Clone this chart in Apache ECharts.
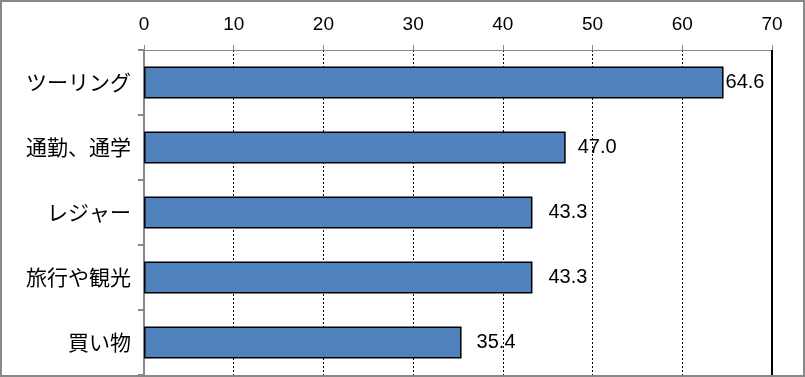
<!DOCTYPE html>
<html>
<head>
<meta charset="utf-8">
<script src="https://cdn.jsdelivr.net/npm/echarts@6/dist/echarts.min.js"></script>
<style>
  html, body { margin: 0; padding: 0; background: #fff; }
  #chart { width: 805px; height: 377px; box-sizing: border-box; border: 2px solid #888; }
</style>
</head>
<body>
<div id="chart"></div>
<script>
const categories = ['ツーリング', '通勤、通学', 'レジャー', '旅行や観光', '買い物'];
const values = [64.6, 47.0, 43.3, 43.3, 35.4];
const labelGaps = [2, 12, 16, 16, 15];

const chart = echarts.init(document.getElementById('chart'));

chart.setOption({
  animation: false,
  grid: { left: 142, right: 31, top: 48, bottom: 0 },
  xAxis: {
    type: 'value',
    position: 'top',
    min: 0,
    max: 70,
    interval: 10,
    axisLine: { show: true, lineStyle: { color: '#888', width: 1 } },
    axisTick: { show: true, inside: false, length: 5, lineStyle: { color: '#888' } },
    axisLabel: { margin: 16, fontSize: 19, color: '#000', fontFamily: 'Liberation Sans' },
    splitLine: { show: true, lineStyle: { color: '#000', width: 1, type: [2, 2] } }
  },
  yAxis: {
    type: 'category',
    inverse: true,
    data: categories,
    axisLine: { show: true, lineStyle: { color: '#888', width: 2 } },
    axisTick: { show: true, length: 6, lineStyle: { color: '#888', width: 2 } },
    axisLabel: { margin: 13, fontSize: 21, color: '#000', fontFamily: 'Noto Sans CJK JP' }
  },
  series: [{
    type: 'bar',
    barWidth: '49%',
    data: values.map((v, i) => ({
      value: v,
      label: { distance: labelGaps[i] }
    })),
    itemStyle: { color: '#4F81BD', borderColor: '#000', borderWidth: 1.5 },
    label: {
      show: true,
      position: 'right',
      fontSize: 20,
      color: '#000',
      fontFamily: 'Liberation Sans',
      formatter: p => p.value.toFixed(1)
    },
    markLine: {
      silent: true,
      symbol: 'none',
      label: { show: false },
      lineStyle: { color: '#000', width: 2, type: 'solid' },
      data: [{ xAxis: 70 }]
    }
  }]
});
</script>
</body>
</html>
